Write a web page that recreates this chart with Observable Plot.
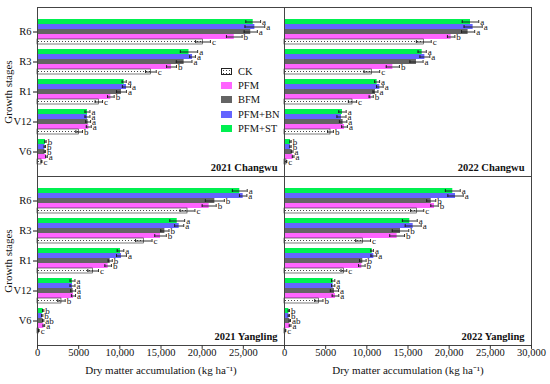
<!DOCTYPE html>
<html><head><meta charset="utf-8">
<script src="https://cdn.jsdelivr.net/npm/d3@7"></script>
<script src="https://cdn.jsdelivr.net/npm/@observablehq/plot@0.6"></script>
<style>
body{margin:0;background:#fff;}
#wrap{position:relative;width:550px;height:384px;font-family:"Liberation Serif","Times New Roman",serif;}
#wrap svg text{font-family:"Liberation Serif","Times New Roman",serif;}
#legend{position:absolute;left:221px;top:64.5px;font-size:10.5px;color:#111;}
.row{display:flex;align-items:center;height:14.2px;}
.sw{width:11px;height:7px;margin-right:6px;box-sizing:border-box;}
</style></head><body><div id="wrap"></div>
<script>
const stages = ["R6","R3","R1","V12","V6"];
const treatments = ["PFM+ST","PFM+BN","BFM","PFM","CK"];
const legendOrder = ["CK","PFM","BFM","PFM+BN","PFM+ST"];
const treatmentColors = ["#00f050","#6464ff","#646464","#ff64ff","url(#ckDots)"];
const years = ["2021","2022"];
const sites = ["Changwu","Yangling"];
const xTickValues = [0,5000,10000,15000,20000,25000,30000];
const xTitle = "Dry matter accumulation (kg ha\u207B\u00B9)";
const yTitle = "Growth stages";

// rows = stages (R6..V6), columns = treatments (PFM+ST, PFM+BN, BFM, PFM, CK)
const mean2021Changwu = [
 [26200, 26400, 25900, 23900, 20100],
 [18400, 18830, 17810, 16280, 13770],
 [10530, 10810, 10200, 8910, 7450],
 [6070, 6070, 6150, 6230, 5060],
 [970, 890, 900, 1090, 490]
];
const err2021Changwu = [
 [900, 1200, 800, 950, 900],
 [1050, 350, 950, 600, 650],
 [250, 500, 600, 400, 450],
 [300, 300, 300, 300, 400],
 [80, 80, 80, 100, 50]
];
const sig2021Changwu = [
 ["a","a","a","b","c"],
 ["a","a","a","b","c"],
 ["a","a","a","b","c"],
 ["a","a","a","a","b"],
 ["b","b","b","a","c"]
];
const mean2022Changwu = [
 [22590, 22910, 22300, 20240, 16920],
 [16720, 17050, 16030, 13160, 10610],
 [11250, 11580, 11050, 10530, 8260],
 [7040, 6920, 7120, 7290, 5590],
 [730, 730, 930, 1050, 240]
];
const err2022Changwu = [
 [1000, 1100, 800, 450, 900],
 [500, 600, 800, 800, 950],
 [300, 400, 300, 250, 500],
 [450, 550, 450, 350, 350],
 [80, 80, 100, 100, 40]
];
const sig2022Changwu = [
 ["a","a","a","b","c"],
 ["a","a","a","b","c"],
 ["a","a","a","b","c"],
 ["a","a","a","a","b"],
 ["b","b","a","a","c"]
];
const mean2021Yangling = [
 [24570, 24980, 21540, 20850, 18220],
 [16970, 17210, 15470, 14940, 12910],
 [10080, 10200, 8830, 8580, 6760],
 [4250, 4250, 4330, 4370, 2910],
 [690, 570, 690, 770, 160]
];
const err2021Yangling = [
 [900, 450, 1150, 850, 900],
 [900, 550, 500, 700, 1000],
 [400, 600, 250, 400, 650],
 [300, 300, 300, 250, 450],
 [80, 80, 80, 100, 40]
];
const sig2021Yangling = [
 ["a","a","b","b","c"],
 ["a","a","b","b","c"],
 ["a","a","b","b","c"],
 ["a","a","a","a","b"],
 ["b","b","ab","a","c"]
];
const mean2022Yangling = [
 [20440, 20770, 17820, 18220, 16110],
 [15220, 15630, 14090, 13680, 9550],
 [10650, 10850, 9510, 9390, 7210],
 [5910, 5910, 6070, 6190, 4170],
 [530, 530, 650, 680, 120]
];
const err2022Yangling = [
 [900, 930, 550, 450, 800],
 [900, 970, 1000, 900, 900],
 [150, 350, 400, 400, 350],
 [200, 200, 500, 400, 500],
 [80, 80, 80, 100, 40]
];
const sig2022Yangling = [
 ["a","a","b","b","c"],
 ["a","a","b","b","c"],
 ["a","a","b","b","c"],
 ["a","a","a","a","b"],
 ["b","b","ab","a","c"]
];

const datasets = [
 {year:"2021", site:"Changwu", mean:mean2021Changwu, err:err2021Changwu, sig:sig2021Changwu},
 {year:"2022", site:"Changwu", mean:mean2022Changwu, err:err2022Changwu, sig:sig2022Changwu},
 {year:"2021", site:"Yangling", mean:mean2021Yangling, err:err2021Yangling, sig:sig2021Yangling},
 {year:"2022", site:"Yangling", mean:mean2022Yangling, err:err2022Yangling, sig:sig2022Yangling}
];

const rows = [];
for (const ds of datasets) {
  stages.forEach((s, i) => treatments.forEach((t, j) => {
    rows.push({year: ds.year, site: ds.site, stage: s, treatment: t, key: `${s}|${t}`,
      mean: ds.mean[i][j], err: ds.err[i][j], sig: ds.sig[i][j]});
  }));
}
const yKeys = stages.flatMap((s, i) => [...(i ? [`gap${i}`] : []), ...treatments.map(t => `${s}|${t}`)]);
const yTicks = stages.map(s => `${s}|BFM`);

const panels = datasets.map(d => ({year: d.year, site: d.site, label: `${d.year} ${d.site}`}));
const leftPanels = panels.filter(d => d.year === years[0]);
const bottomPanels = panels.filter(d => d.site === sites[1]);
const xTickRows = bottomPanels.flatMap(p => xTickValues
  .filter(v => p.year === years[1] || v < 30000)
  .map(v => ({year: p.year, site: p.site, v})));
const fmt = v => v >= 10000 ? d3.format(",")(v) : String(v);
const tickShape = {draw(context, l) { context.moveTo(0, 0); context.lineTo(0, -l); }};

const FONT = "'Liberation Serif', 'Times New Roman', serif";
const F = {fx: "year", fy: "site"};
const chart = Plot.plot({
  width: 550, height: 384,
  marginLeft: 36, marginRight: 19, marginTop: 6, marginBottom: 39,
  style: `font-family: ${FONT}; font-size: 10px; background: white; color: #111;`,
  fx: {domain: years, padding: 0, axis: null},
  fy: {domain: sites, padding: 0, axis: null},
  x: {domain: [0, 30000], axis: null},
  y: {type: "band", domain: yKeys, paddingInner: 0, paddingOuter: 0.5, axis: null},
  color: {domain: treatments, range: treatmentColors},
  marks: [
    Plot.barX(rows.filter(d => d.treatment !== "CK"), {x: "mean", y: "key", ...F, fill: "treatment"}),
    Plot.barX(rows.filter(d => d.treatment === "CK"), {x: "mean", y: "key", ...F, fill: "treatment", stroke: "#222", strokeWidth: 0.6}),
    Plot.ruleY(rows, {y: "key", x1: d => d.mean - d.err, x2: d => d.mean + d.err, ...F, stroke: "#1a1a1a", strokeWidth: 0.9}),
    Plot.tickX(rows, {x: d => d.mean - d.err, y: "key", ...F, stroke: "#1a1a1a", strokeWidth: 0.9, insetTop: 1, insetBottom: 1}),
    Plot.tickX(rows, {x: d => d.mean + d.err, y: "key", ...F, stroke: "#1a1a1a", strokeWidth: 0.9, insetTop: 1, insetBottom: 1}),
    Plot.text(rows, {x: d => d.mean + d.err, y: "key", ...F, text: "sig", dx: 1.5, textAnchor: "start", fontSize: 9, fill: "#111"}),
    Plot.frame({stroke: "#444", strokeWidth: 1}),
    Plot.axisY({ticks: yTicks, tickFormat: k => k.split("|")[0], tickSize: 4, tickPadding: 2, label: null, fontSize: 10.5}),
    Plot.vector(xTickRows, {x: "v", ...F, frameAnchor: "bottom", anchor: "start", length: 3, rotate: 180, shape: tickShape, stroke: "#333", strokeWidth: 1}),
    Plot.text(xTickRows, {x: "v", ...F, frameAnchor: "bottom", dy: 10, text: d => fmt(d.v), fontSize: 10.5, fill: "#111"}),
    Plot.text(bottomPanels, {...F, frameAnchor: "bottom", dy: 28, text: () => xTitle, fontSize: 11, fill: "#111"}),
    Plot.text(leftPanels, {...F, frameAnchor: "left", dx: -29, rotate: -90, textAnchor: "middle", text: () => yTitle, fontSize: 11, fill: "#111"}),
    Plot.text(panels, {...F, frameAnchor: "bottom-right", dx: -7, dy: -6, text: "label", fontWeight: "bold", fontSize: 10.5, fill: "#111"})
  ]
});
chart.setAttribute("font-family", FONT);

const svg = d3.select(chart);
const defs = svg.insert("defs", ":first-child");
const pat = defs.append("pattern").attr("id", "ckDots").attr("patternUnits", "userSpaceOnUse").attr("width", 3).attr("height", 3);
pat.append("rect").attr("width", 3).attr("height", 3).attr("fill", "white");
pat.append("rect").attr("x", 1).attr("y", 1).attr("width", 1).attr("height", 1).attr("fill", "#444");

const wrap = document.getElementById("wrap");
wrap.appendChild(chart);

const legend = document.createElement("div");
legend.id = "legend";
for (const t of legendOrder) {
  const row = document.createElement("div");
  row.className = "row";
  const sw = document.createElement("div");
  sw.className = "sw";
  const c = treatmentColors[treatments.indexOf(t)];
  if (t === "CK") {
    sw.style.background = "white";
    sw.style.backgroundImage = "radial-gradient(#444 0.7px, transparent 0.8px)";
    sw.style.backgroundSize = "3px 3px";
    sw.style.border = "1px solid #222";
  } else {
    sw.style.background = c;
  }
  const lab = document.createElement("span");
  lab.textContent = t;
  row.appendChild(sw); row.appendChild(lab);
  legend.appendChild(row);
}
wrap.appendChild(legend);
</script></body></html>
